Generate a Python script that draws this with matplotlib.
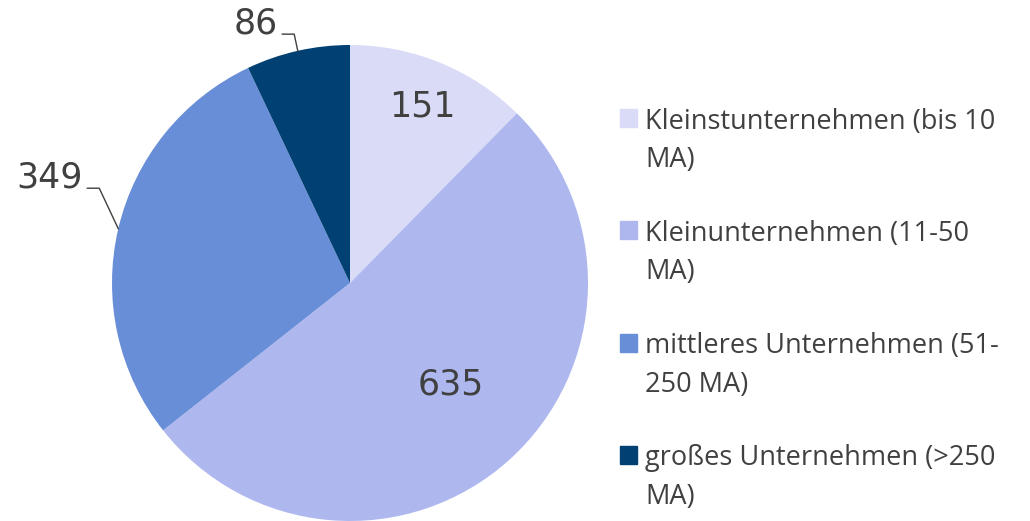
import numpy as np
import matplotlib
matplotlib.use("Agg")
import matplotlib.pyplot as plt
from matplotlib.patches import Rectangle

categories = ["Kleinstunternehmen (bis 10\nMA)",
              "Kleinunternehmen (11-50\nMA)",
              "mittleres Unternehmen (51-\n250 MA)",
              "großes Unternehmen (>250\nMA)"]
values = [151, 635, 349, 86]
colors = ["#DADCF7", "#AEB8EF", "#698ED8", "#004073"]
TXT = "#404040"

W, H = 1030, 521
fig = plt.figure(figsize=(W / 100, H / 100), dpi=100)
cx, cy, R = 350, 283, 238
ax = fig.add_axes([(cx - R) / W, (H - cy - R) / H, 2 * R / W, 2 * R / H])
wedges, _ = ax.pie(values, colors=colors, startangle=90, counterclock=False,
                   radius=1.0, wedgeprops=dict(linewidth=0))
for w in wedges:
    w.set_clip_on(False)
ax.set_xlim(-1, 1); ax.set_ylim(-1, 1)
ax.set_aspect("equal"); ax.axis("off")

num_font = "DejaVu Sans"
# inside labels: (index, radius fraction, extra angle shift in deg)
for i, r, da in [(0, 0.80, 0.0), (1, 0.60, 3.0)]:
    w = wedges[i]
    a = np.deg2rad((w.theta1 + w.theta2) / 2 + da)
    ax.text(r * np.cos(a), r * np.sin(a), str(values[i]), ha="center", va="center",
            fontsize=25, color=TXT, family=num_font)

# outside labels with leader lines (offsets in data units)
for i, dx_knee, dy_knee, seg in [(2, -0.08, 0.17, 0.05), (3, -0.015, 0.07, 0.05)]:
    w = wedges[i]
    a = np.deg2rad((w.theta1 + w.theta2) / 2)
    ex, ey = np.cos(a), np.sin(a)
    kx, ky = ex + dx_knee, ey + dy_knee
    ax.plot([ex, kx, kx - seg], [ey, ky, ky], color=TXT, lw=1.0, clip_on=False)
    ax.text(kx - seg - 0.02, ky + 0.045, str(values[i]), ha="right", va="center",
            fontsize=25, color=TXT, family=num_font)

# legend (drawn by hand so the labels wrap like the original)
leg_font = "Open Sans"
y0 = 118
for k, (lab, col) in enumerate(zip(categories, colors)):
    y = y0 + k * 112.3
    fig.patches.append(Rectangle((620 / W, 1 - (y + 9) / H), 17 / W, 18 / H,
                                 transform=fig.transFigure, color=col))
    for j, line in enumerate(lab.split("\n")):
        fig.text(645 / W, 1 - (y + j * 38.5) / H, line, ha="left",
                 va="center_baseline", fontsize=19.5, color=TXT, family=leg_font)

fig.savefig("out.png", dpi=100)
